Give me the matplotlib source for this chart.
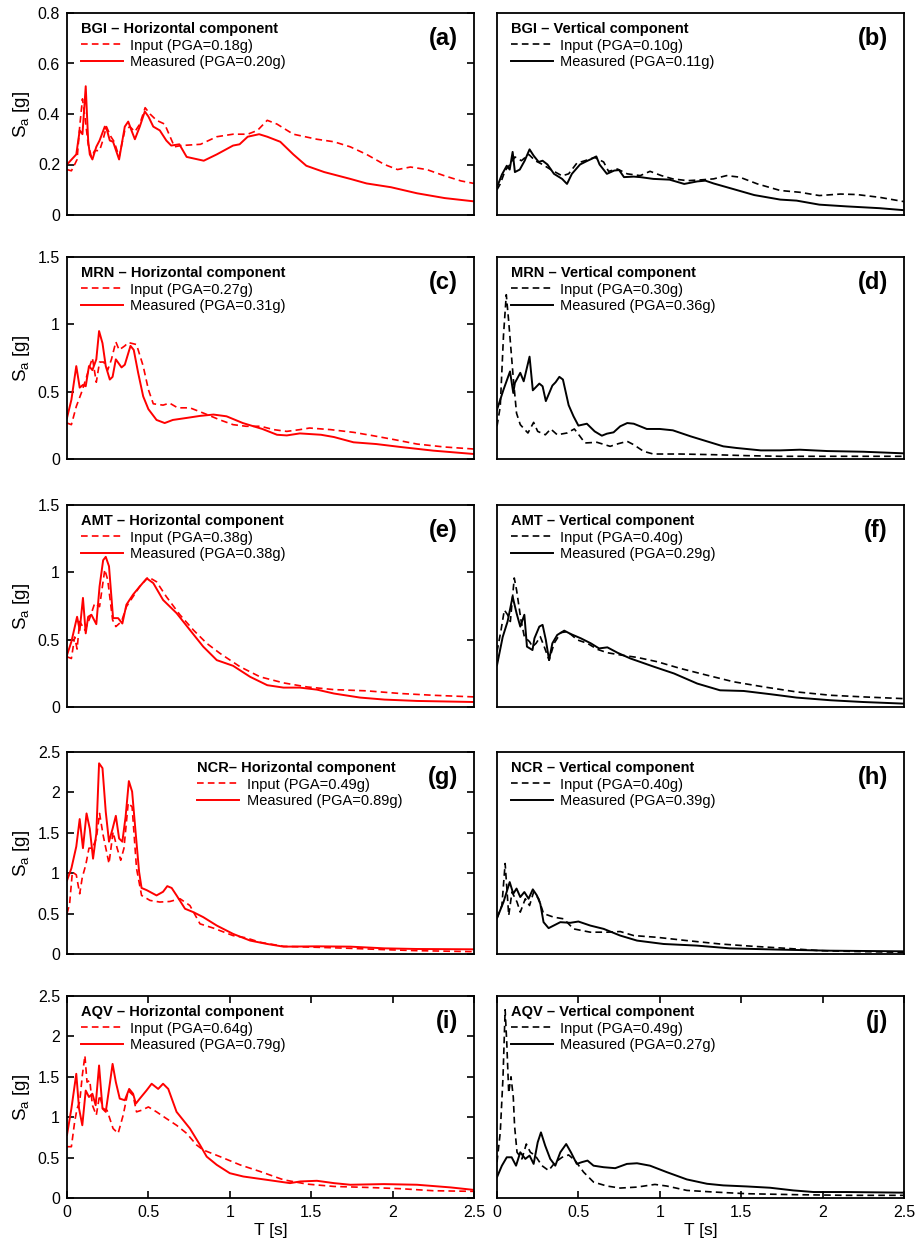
import matplotlib.pyplot as plt
from matplotlib.ticker import FuncFormatter, MultipleLocator

plt.rcParams['font.family'] = ['Liberation Sans', 'DejaVu Sans']

# ---- (a) BGI horizontal
t_a_meas = [0, 0.057, 0.078, 0.095, 0.115, 0.13, 0.14, 0.156, 0.18, 0.2, 0.232, 0.246, 0.263, 0.283, 0.32, 0.355,
            0.376, 0.396, 0.417, 0.447, 0.478, 0.5, 0.53, 0.57, 0.61, 0.64, 0.69, 0.735, 0.84, 0.92, 1.02, 1.06,
            1.11, 1.18, 1.23, 1.31, 1.39, 1.47, 1.58, 1.74, 1.84, 1.99, 2.15, 2.32, 2.5]
sa_a_meas = [0.20, 0.24, 0.335, 0.32, 0.51, 0.295, 0.24, 0.22, 0.27, 0.295, 0.35, 0.335, 0.295, 0.29, 0.22, 0.35,
             0.37, 0.335, 0.30, 0.35, 0.41, 0.39, 0.35, 0.335, 0.295, 0.275, 0.28, 0.23, 0.215, 0.24, 0.275, 0.28,
             0.31, 0.32, 0.31, 0.29, 0.24, 0.195, 0.17, 0.143, 0.125, 0.11, 0.086, 0.067, 0.054]
t_a_in = [0, 0.027, 0.047, 0.062, 0.078, 0.095, 0.11, 0.13, 0.15, 0.17, 0.2, 0.22, 0.242, 0.27, 0.29, 0.32, 0.355,
          0.386, 0.417, 0.447, 0.48, 0.51, 0.55, 0.6, 0.64, 0.66, 0.70, 0.82, 0.92, 1.02, 1.11, 1.17, 1.23, 1.29,
          1.39, 1.535, 1.64, 1.74, 1.84, 1.95, 2.03, 2.11, 2.21, 2.32, 2.42, 2.5]
sa_a_in = [0.18, 0.175, 0.2, 0.22, 0.35, 0.46, 0.39, 0.28, 0.23, 0.255, 0.255, 0.295, 0.35, 0.31, 0.29, 0.23, 0.335,
           0.35, 0.33, 0.36, 0.425, 0.40, 0.375, 0.36, 0.30, 0.27, 0.275, 0.28, 0.31, 0.32, 0.32, 0.335, 0.375, 0.36,
           0.32, 0.30, 0.29, 0.27, 0.24, 0.20, 0.18, 0.19, 0.18, 0.155, 0.135, 0.125]

# ---- (b) BGI vertical
t_b_meas = [0, 0.03, 0.06, 0.078, 0.096, 0.11, 0.14, 0.17, 0.2, 0.225, 0.256, 0.28, 0.31, 0.35, 0.4, 0.43, 0.46,
            0.51, 0.55, 0.58, 0.61, 0.63, 0.675, 0.72, 0.75, 0.78, 0.84, 0.88, 0.96, 1.06, 1.15, 1.23, 1.28, 1.33,
            1.45, 1.58, 1.74, 1.84, 1.98, 2.15, 2.35, 2.5]
sa_b_meas = [0.11, 0.16, 0.195, 0.18, 0.25, 0.17, 0.18, 0.215, 0.26, 0.235, 0.21, 0.215, 0.2, 0.163, 0.143, 0.123,
             0.163, 0.2, 0.213, 0.222, 0.232, 0.2, 0.163, 0.176, 0.178, 0.15, 0.152, 0.15, 0.143, 0.14, 0.123, 0.133,
             0.136, 0.125, 0.103, 0.079, 0.061, 0.057, 0.041, 0.034, 0.027, 0.019]
t_b_in = [0, 0.02, 0.05, 0.08, 0.11, 0.15, 0.195, 0.235, 0.28, 0.33, 0.4, 0.44, 0.49, 0.54, 0.6, 0.655, 0.685, 0.74,
          0.8, 0.88, 0.94, 1.01, 1.08, 1.17, 1.25, 1.33, 1.41, 1.49, 1.6, 1.74, 1.86, 1.98, 2.11, 2.21, 2.35, 2.5]
sa_b_in = [0.10, 0.123, 0.176, 0.2, 0.23, 0.215, 0.24, 0.215, 0.2, 0.18, 0.155, 0.163, 0.205, 0.215, 0.228, 0.21,
           0.173, 0.182, 0.163, 0.156, 0.173, 0.156, 0.143, 0.136, 0.139, 0.143, 0.156, 0.15, 0.123, 0.097, 0.09,
           0.077, 0.083, 0.081, 0.07, 0.053]

# ---- (c) MRN horizontal
t_c_meas = [0, 0.027, 0.057, 0.078, 0.098, 0.115, 0.135, 0.156, 0.18, 0.197, 0.218, 0.238, 0.263, 0.28, 0.3, 0.335,
            0.355, 0.39, 0.41, 0.437, 0.468, 0.5, 0.55, 0.6, 0.65, 0.735, 0.817, 0.9, 0.98, 1.02, 1.08, 1.2, 1.29,
            1.35, 1.43, 1.56, 1.64, 1.76, 1.9, 2.05, 2.25, 2.5]
sa_c_meas = [0.305, 0.44, 0.69, 0.53, 0.55, 0.54, 0.69, 0.66, 0.74, 0.95, 0.86, 0.69, 0.59, 0.61, 0.74, 0.68, 0.70,
             0.84, 0.81, 0.64, 0.465, 0.37, 0.29, 0.267, 0.29, 0.305, 0.32, 0.33, 0.317, 0.297, 0.267, 0.223, 0.18,
             0.175, 0.19, 0.18, 0.163, 0.124, 0.111, 0.089, 0.062, 0.037]
t_c_in = [0, 0.027, 0.057, 0.088, 0.115, 0.14, 0.156, 0.18, 0.2, 0.226, 0.25, 0.273, 0.3, 0.32, 0.355, 0.376, 0.427,
          0.468, 0.5, 0.53, 0.59, 0.63, 0.68, 0.755, 0.84, 0.94, 1.02, 1.1, 1.19, 1.27, 1.35, 1.43, 1.49, 1.62, 1.76,
          1.88, 2.01, 2.15, 2.32, 2.5]
sa_c_in = [0.267, 0.255, 0.39, 0.49, 0.59, 0.69, 0.75, 0.57, 0.72, 0.72, 0.66, 0.74, 0.87, 0.81, 0.84, 0.865, 0.85,
           0.69, 0.515, 0.41, 0.40, 0.415, 0.38, 0.38, 0.34, 0.29, 0.255, 0.243, 0.243, 0.218, 0.205, 0.218, 0.23,
           0.218, 0.198, 0.173, 0.144, 0.111, 0.089, 0.074]

# ---- (d) MRN vertical
t_d_meas = [0, 0.04, 0.08, 0.1, 0.11, 0.143, 0.164, 0.2, 0.22, 0.26, 0.28, 0.3, 0.34, 0.36, 0.383, 0.405, 0.44, 0.47,
            0.5, 0.552, 0.6, 0.644, 0.675, 0.716, 0.757, 0.8, 0.84, 0.92, 1.0, 1.08, 1.19, 1.29, 1.39, 1.47, 1.62,
            1.74, 1.86, 2.03, 2.25, 2.5]
sa_d_meas = [0.366, 0.515, 0.65, 0.49, 0.565, 0.64, 0.577, 0.76, 0.51, 0.56, 0.54, 0.43, 0.545, 0.57, 0.61, 0.59,
             0.40, 0.317, 0.248, 0.262, 0.205, 0.173, 0.188, 0.198, 0.243, 0.267, 0.262, 0.223, 0.223, 0.213, 0.168,
             0.131, 0.094, 0.082, 0.064, 0.064, 0.069, 0.059, 0.054, 0.042]
t_d_in = [0, 0.02, 0.04, 0.057, 0.072, 0.086, 0.1, 0.12, 0.143, 0.19, 0.225, 0.25, 0.297, 0.33, 0.37, 0.43, 0.475,
          0.51, 0.54, 0.614, 0.695, 0.746, 0.8, 0.84, 0.9, 0.96, 1.125, 1.33, 1.53, 1.74, 2.05, 2.5]
sa_d_in = [0.243, 0.39, 0.92, 1.22, 1.02, 0.81, 0.60, 0.34, 0.255, 0.193, 0.272, 0.205, 0.18, 0.223, 0.18, 0.193,
           0.223, 0.168, 0.119, 0.124, 0.094, 0.114, 0.131, 0.106, 0.057, 0.037, 0.037, 0.032, 0.025, 0.02, 0.02, 0.02]

# ---- (e) AMT horizontal
t_e_meas = [0, 0.027, 0.062, 0.078, 0.098, 0.115, 0.13, 0.15, 0.18, 0.2, 0.222, 0.238, 0.258, 0.283, 0.314, 0.34,
            0.365, 0.406, 0.447, 0.49, 0.53, 0.59, 0.673, 0.755, 0.837, 0.92, 1.02, 1.125, 1.23, 1.33, 1.43, 1.535,
            1.64, 1.8, 1.95, 2.15, 2.5]
sa_e_meas = [0.385, 0.485, 0.67, 0.57, 0.81, 0.547, 0.67, 0.685, 0.615, 0.895, 1.09, 1.115, 1.045, 0.66, 0.66, 0.62,
             0.76, 0.835, 0.895, 0.955, 0.92, 0.795, 0.697, 0.572, 0.448, 0.348, 0.306, 0.224, 0.162, 0.144, 0.144,
             0.129, 0.10, 0.07, 0.055, 0.045, 0.037]
t_e_in = [0, 0.027, 0.047, 0.062, 0.078, 0.11, 0.14, 0.17, 0.2, 0.232, 0.25, 0.28, 0.3, 0.335, 0.365, 0.406, 0.447,
          0.5, 0.55, 0.61, 0.694, 0.776, 0.858, 0.94, 1.063, 1.186, 1.33, 1.474, 1.64, 1.84, 2.05, 2.25, 2.5]
sa_e_in = [0.373, 0.36, 0.52, 0.43, 0.635, 0.57, 0.66, 0.77, 0.745, 1.02, 0.945, 0.647, 0.597, 0.635, 0.745, 0.82,
           0.895, 0.965, 0.93, 0.82, 0.684, 0.572, 0.473, 0.398, 0.299, 0.224, 0.179, 0.149, 0.129, 0.12, 0.10,
           0.087, 0.075]

# ---- (f) AMT vertical
t_f_meas = [0, 0.035, 0.065, 0.096, 0.12, 0.143, 0.168, 0.184, 0.218, 0.23, 0.26, 0.28, 0.3, 0.32, 0.34, 0.37,
            0.413, 0.453, 0.515, 0.576, 0.627, 0.678, 0.74, 0.82, 0.964, 1.087, 1.23, 1.37, 1.515, 1.68, 1.84, 2.05,
            2.25, 2.5]
sa_f_meas = [0.31, 0.52, 0.635, 0.82, 0.697, 0.597, 0.685, 0.448, 0.423, 0.51, 0.597, 0.61, 0.498, 0.348, 0.473,
             0.535, 0.567, 0.542, 0.51, 0.473, 0.435, 0.443, 0.403, 0.36, 0.299, 0.249, 0.174, 0.124, 0.119, 0.095,
             0.07, 0.05, 0.037, 0.025]
t_f_in = [0, 0.025, 0.045, 0.065, 0.082, 0.106, 0.12, 0.147, 0.168, 0.2, 0.218, 0.24, 0.266, 0.29, 0.32, 0.351,
          0.392, 0.433, 0.494, 0.555, 0.617, 0.678, 0.76, 0.862, 0.985, 1.127, 1.29, 1.454, 1.64, 1.84, 2.05, 2.25,
          2.5]
sa_f_in = [0.41, 0.572, 0.72, 0.685, 0.635, 0.958, 0.87, 0.647, 0.522, 0.485, 0.448, 0.473, 0.522, 0.448, 0.348,
           0.473, 0.552, 0.56, 0.498, 0.473, 0.428, 0.403, 0.386, 0.368, 0.336, 0.286, 0.236, 0.187, 0.149, 0.112,
           0.087, 0.075, 0.062]

# ---- (g) NCR horizontal
t_g_meas = [0, 0.027, 0.057, 0.078, 0.098, 0.12, 0.14, 0.16, 0.18, 0.197, 0.218, 0.238, 0.258, 0.28, 0.3, 0.32,
            0.34, 0.36, 0.38, 0.4, 0.423, 0.443, 0.458, 0.49, 0.55, 0.59, 0.616, 0.643, 0.673, 0.725, 0.776, 0.837,
            0.92, 1.02, 1.125, 1.23, 1.33, 1.535, 1.74, 1.95, 2.15, 2.5]
sa_g_meas = [0.91, 1.06, 1.33, 1.67, 1.31, 1.74, 1.55, 1.18, 1.49, 2.36, 2.30, 1.76, 1.39, 1.55, 1.71, 1.43, 1.39,
             1.70, 2.14, 2.01, 1.47, 1.015, 0.817, 0.79, 0.725, 0.77, 0.84, 0.817, 0.725, 0.56, 0.518, 0.456, 0.352,
             0.249, 0.166, 0.124, 0.091, 0.095, 0.091, 0.07, 0.062, 0.058]
t_g_in = [0, 0.016, 0.033, 0.057, 0.078, 0.094, 0.115, 0.135, 0.156, 0.18, 0.2, 0.222, 0.258, 0.283, 0.308, 0.33,
          0.35, 0.376, 0.4, 0.427, 0.458, 0.51, 0.57, 0.632, 0.694, 0.755, 0.817, 0.9, 1.02, 1.1, 1.186, 1.33, 1.535,
          1.74, 1.95, 2.15, 2.5]
sa_g_in = [0.50, 0.62, 1.015, 0.98, 0.745, 0.95, 1.10, 1.31, 1.31, 1.43, 1.74, 1.47, 1.12, 1.51, 1.31, 1.16, 1.31,
           1.87, 1.82, 1.06, 0.725, 0.663, 0.643, 0.65, 0.684, 0.60, 0.373, 0.32, 0.228, 0.20, 0.145, 0.095, 0.083,
           0.07, 0.054, 0.041, 0.029]

# ---- (h) NCR vertical
t_h_meas = [0, 0.04, 0.078, 0.1, 0.12, 0.143, 0.168, 0.194, 0.22, 0.245, 0.266, 0.286, 0.317, 0.348, 0.389, 0.45,
            0.5, 0.573, 0.655, 0.757, 0.86, 1.023, 1.227, 1.43, 1.738, 2.045, 2.5]
sa_h_meas = [0.444, 0.643, 0.89, 0.746, 0.81, 0.705, 0.767, 0.684, 0.80, 0.725, 0.622, 0.394, 0.32, 0.352, 0.394,
             0.386, 0.402, 0.352, 0.311, 0.228, 0.166, 0.124, 0.104, 0.07, 0.054, 0.041, 0.033]
t_h_in = [0, 0.03, 0.05, 0.072, 0.092, 0.123, 0.143, 0.174, 0.2, 0.225, 0.256, 0.286, 0.348, 0.41, 0.47, 0.573,
          0.675, 0.757, 0.84, 0.98, 1.166, 1.37, 1.575, 1.78, 1.985, 2.25, 2.5]
sa_h_in = [0.444, 0.60, 1.12, 0.477, 0.767, 0.643, 0.518, 0.684, 0.60, 0.767, 0.684, 0.50, 0.456, 0.435, 0.311,
           0.27, 0.27, 0.278, 0.228, 0.207, 0.166, 0.124, 0.095, 0.07, 0.041, 0.029, 0.021]

# ---- (i) AQV horizontal
t_i_meas = [0, 0.027, 0.057, 0.074, 0.094, 0.115, 0.135, 0.156, 0.176, 0.197, 0.218, 0.238, 0.263, 0.28, 0.3,
            0.324, 0.355, 0.382, 0.406, 0.423, 0.447, 0.488, 0.52, 0.56, 0.59, 0.622, 0.673, 0.755, 0.817, 0.858,
            0.92, 1.0, 1.083, 1.227, 1.37, 1.433, 1.535, 1.64, 1.74, 1.946, 2.15, 2.356, 2.5]
sa_i_meas = [0.78, 1.107, 1.537, 1.107, 0.90, 1.33, 1.25, 1.29, 1.148, 1.64, 1.107, 1.066, 1.414, 1.66, 1.434, 1.23,
             1.21, 1.35, 1.29, 1.168, 1.23, 1.33, 1.414, 1.35, 1.414, 1.35, 1.066, 0.86, 0.656, 0.512, 0.41, 0.307,
             0.266, 0.225, 0.184, 0.205, 0.213, 0.184, 0.164, 0.172, 0.164, 0.131, 0.10]
t_i_in = [0, 0.027, 0.047, 0.062, 0.078, 0.094, 0.11, 0.123, 0.14, 0.156, 0.18, 0.2, 0.222, 0.246, 0.283, 0.314,
          0.345, 0.376, 0.406, 0.427, 0.458, 0.5, 0.55, 0.61, 0.673, 0.735, 0.796, 0.837, 0.94, 1.063, 1.186, 1.33,
          1.474, 1.64, 1.84, 2.05, 2.25, 2.5]
sa_i_in = [0.635, 0.635, 0.943, 1.107, 1.19, 1.516, 1.762, 1.434, 1.455, 1.148, 1.025, 1.27, 1.107, 1.086, 0.86,
           0.80, 1.025, 1.33, 1.27, 1.066, 1.086, 1.127, 1.066, 0.984, 0.90, 0.80, 0.656, 0.594, 0.512, 0.41, 0.328,
           0.225, 0.172, 0.143, 0.131, 0.115, 0.09, 0.082]

# ---- (j) AQV vertical
t_j_meas = [0, 0.03, 0.06, 0.09, 0.117, 0.143, 0.174, 0.2, 0.225, 0.25, 0.27, 0.296, 0.327, 0.358, 0.389, 0.425,
            0.454, 0.49, 0.52, 0.556, 0.593, 0.655, 0.726, 0.798, 0.86, 0.94, 1.043, 1.166, 1.29, 1.39, 1.534, 1.677,
            1.82, 1.944, 2.148, 2.5]
sa_j_meas = [0.258, 0.40, 0.504, 0.504, 0.40, 0.566, 0.484, 0.525, 0.422, 0.689, 0.812, 0.648, 0.484, 0.40, 0.566,
             0.668, 0.566, 0.422, 0.443, 0.463, 0.40, 0.381, 0.369, 0.422, 0.43, 0.40, 0.32, 0.23, 0.176, 0.156,
             0.143, 0.127, 0.094, 0.074, 0.074, 0.066]
t_j_in = [0, 0.02, 0.037, 0.05, 0.06, 0.072, 0.086, 0.1, 0.108, 0.123, 0.153, 0.18, 0.205, 0.235, 0.276, 0.317,
          0.358, 0.4, 0.44, 0.48, 0.532, 0.593, 0.675, 0.757, 0.86, 0.97, 1.043, 1.166, 1.33, 1.534, 1.84, 2.148,
          2.5]
sa_j_in = [0.443, 0.812, 1.50, 2.33, 1.92, 1.30, 1.50, 1.25, 0.89, 0.566, 0.484, 0.668, 0.566, 0.525, 0.40, 0.34,
           0.443, 0.504, 0.533, 0.463, 0.32, 0.197, 0.148, 0.123, 0.135, 0.168, 0.148, 0.094, 0.074, 0.053, 0.041,
           0.033, 0.033]

stations = ['BGI', 'MRN', 'AMT', 'NCR', 'AQV']
pga_in_h = ['0.18', '0.27', '0.38', '0.49', '0.64']
pga_meas_h = ['0.20', '0.31', '0.38', '0.89', '0.79']
pga_in_v = ['0.10', '0.30', '0.40', '0.40', '0.49']
pga_meas_v = ['0.11', '0.36', '0.29', '0.39', '0.27']
ymax = [0.8, 1.5, 1.5, 2.5, 2.5]
ystep = [0.2, 0.5, 0.5, 0.5, 0.5]
letters = ['a', 'b', 'c', 'd', 'e', 'f', 'g', 'h', 'i', 'j']

series = [
    (t_a_in, sa_a_in, t_a_meas, sa_a_meas), (t_b_in, sa_b_in, t_b_meas, sa_b_meas),
    (t_c_in, sa_c_in, t_c_meas, sa_c_meas), (t_d_in, sa_d_in, t_d_meas, sa_d_meas),
    (t_e_in, sa_e_in, t_e_meas, sa_e_meas), (t_f_in, sa_f_in, t_f_meas, sa_f_meas),
    (t_g_in, sa_g_in, t_g_meas, sa_g_meas), (t_h_in, sa_h_in, t_h_meas, sa_h_meas),
    (t_i_in, sa_i_in, t_i_meas, sa_i_meas), (t_j_in, sa_j_in, t_j_meas, sa_j_meas),
]

fig = plt.figure(figsize=(9.23, 12.48), dpi=100)
fmt = FuncFormatter(lambda v, p: '%g' % round(v, 2))

ax_w = 407 / 923
ax_h = 202 / 1248
lefts = [67 / 923, 497 / 923]
tops = [13, 257, 505, 752, 996]

for r in range(5):
    for c in range(2):
        k = r * 2 + c
        ax = fig.add_axes([lefts[c], 1 - (tops[r] + 202) / 1248, ax_w, ax_h])
        t_in, s_in, t_me, s_me = series[k]
        col = 'red' if c == 0 else 'black'
        ax.plot(t_in, s_in, color=col, lw=1.2, ls=(0, (4, 2.5)),
                label='Input (PGA=%sg)' % (pga_in_h[r] if c == 0 else pga_in_v[r]))
        ax.plot(t_me, s_me, color=col, lw=1.4,
                label='Measured (PGA=%sg)' % (pga_meas_h[r] if c == 0 else pga_meas_v[r]))
        ax.set_xlim(0, 2.5)
        ax.set_ylim(0, ymax[r])
        for s in ax.spines.values():
            s.set_linewidth(1.3)

        if c == 0:
            title = '%s%s Horizontal component' % (stations[r], '–' if r == 3 else ' –')
        else:
            title = '%s – Vertical component' % stations[r]
        lx = 0.298 if k == 6 else 0.012
        leg = ax.legend(loc='upper left', bbox_to_anchor=(lx, 1.0), frameon=False, title=title,
                        alignment='left', fontsize=10.5, handlelength=2.9, handletextpad=0.5,
                        labelspacing=0.15, borderaxespad=0.3, borderpad=0.3,
                        title_fontproperties={'weight': 'bold', 'size': 10.5})
        leg._legend_box.sep = 2
        ax.text(0.96, 0.875, '(%s)' % letters[k], transform=ax.transAxes, ha='right', va='center',
                fontsize=17, fontweight='bold')

        ax.xaxis.set_major_locator(MultipleLocator(0.5))
        ax.yaxis.set_major_locator(MultipleLocator(ystep[r]))
        ax.xaxis.set_major_formatter(fmt)
        ax.yaxis.set_major_formatter(fmt)
        bottom_row = r == 4
        ax.tick_params(axis='x', direction='in', top=bottom_row, bottom=bottom_row,
                       labelbottom=bottom_row, length=5, width=1.2, labelsize=11.5, pad=5)
        ax.tick_params(axis='y', direction='in', left=(c == 0), right=(c == 0),
                       labelleft=(c == 0), length=5, width=1.2, labelsize=11.5, pad=5)
        if c == 0:
            ax.set_ylabel('S$_\\mathregular{a}$ [g]', fontsize=13.5, labelpad=4)
        if bottom_row:
            ax.set_xlabel('T [s]', fontsize=12.5, labelpad=2)

fig.savefig('out.png', dpi=100)
